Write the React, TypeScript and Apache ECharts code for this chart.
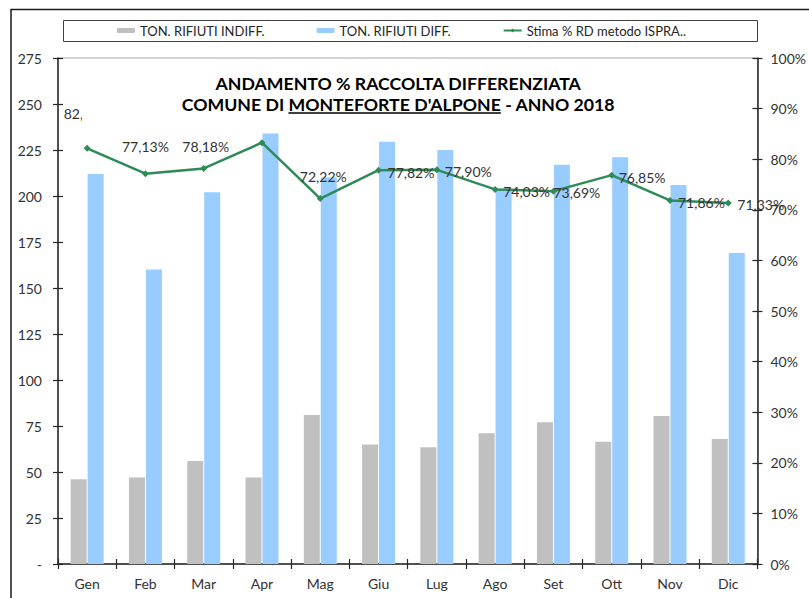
import React, { useEffect, useRef } from "react";
import * as echarts from "echarts";

// ---- data ----
const months = ["Gen", "Feb", "Mar", "Apr", "Mag", "Giu", "Lug", "Ago", "Set", "Ott", "Nov", "Dic"];
const tonIndiff = [46, 47, 56, 47, 81, 65, 63.5, 71, 77, 66.5, 80.5, 68];
const tonDiff = [212, 160, 202, 234, 210, 229.5, 225, 204, 217, 221, 206, 169];
const pctRD = [82.15, 77.13, 78.18, 83.26, 72.22, 77.82, 77.9, 74.03, 73.69, 76.85, 71.86, 71.33];

const seriesNames = ["TON. RIFIUTI INDIFF.", "TON. RIFIUTI DIFF.", "Stima % RD metodo ISPRA.."];
const titleLine1 = "ANDAMENTO % RACCOLTA DIFFERENZIATA";
const titleLine2 = ["COMUNE DI ", "MONTEFORTE D'ALPONE", " - ANNO 2018"];

// label placement for line points (relative to the marker); Apr label is hidden by the title box
const labelOffsets: [number, number][] = [
  [0, -35], [0, -27], [2, -22], [0, -34], [3, -22], [9, 2],
  [8, 2], [8, 2], [0, 1], [7, 2], [8, 2], [9, 1],
];
const labelAligns = ["center", "center", "center", "center", "center", "left",
  "left", "left", "left", "left", "left", "left"];
const labelVisible = [true, true, true, false, true, true, true, true, true, true, true, true];

const FONT = "Lato";
const fmtPct = (v: number) => v.toFixed(2).replace(".", ",") + "%";

function measure(text: string, font: string): number {
  const c = document.createElement("canvas");
  const ctx = c.getContext("2d");
  if (!ctx) return text.length * 9;
  ctx.font = font;
  return ctx.measureText(text).width;
}

export default function App() {
  const ref = useRef<HTMLDivElement>(null);
  useEffect(() => {
    if (!ref.current) return;
    const chart = echarts.init(ref.current, undefined, { renderer: "svg" });

    // title layout (measured)
    const baseFs = 16;
    const w1base = measure(titleLine1, `bold ${baseFs}px ${FONT}`);
    const fs = Math.round((baseFs * 367) / w1base * 10) / 10;
    const tFont = `bold ${fs}px ${FONT}`;
    const cx = 398.5;
    const w1 = measure(titleLine1, tFont);
    const wa = measure(titleLine2[0], tFont);
    const wb = measure(titleLine2[1], tFont);
    const wc = measure(titleLine2[2], tFont);
    const x2 = cx - (wa + wb + wc) / 2;

    const titleStyle = (text: string) => ({
      text,
      fill: "#000",
      fontFamily: FONT,
      fontWeight: "bold",
      fontSize: fs,
      align: "left",
      verticalAlign: "middle",
    });

    const option: any = {
      animation: false,
      textStyle: { fontFamily: FONT },
      grid: {
        left: 58, right: 46, top: 58, bottom: 34,
        show: true, borderColor: "#a6a6a6", borderWidth: 1, backgroundColor: "transparent",
      },
      legend: {
        left: 117, top: 24, padding: 0,
        itemWidth: 18, itemHeight: 5, itemGap: 52,
        data: seriesNames,
        textStyle: { fontFamily: FONT, fontSize: 13, color: "#262626" },
      },
      xAxis: [
        {
          type: "category", data: months,
          axisLine: { lineStyle: { color: "#262626", width: 1.5 } },
          axisTick: { show: true, length: 5, lineStyle: { color: "#262626", width: 1.2 } },
          axisLabel: { fontFamily: FONT, fontSize: 14, color: "#333", margin: 12 },
        },
        {
          type: "category", data: months, position: "bottom",
          axisLine: { show: false },
          axisTick: { show: true, inside: true, length: 5, lineStyle: { color: "#262626", width: 1.2 } },
          axisLabel: { show: false },
        },
      ],
      yAxis: [
        {
          type: "value", min: 0, max: 275, interval: 25, position: "left",
          axisLine: { show: true, lineStyle: { color: "#262626", width: 1.5 } },
          axisTick: { show: true, length: 5, lineStyle: { color: "#262626", width: 1.2 } },
          splitLine: { show: false },
          axisLabel: {
            fontFamily: FONT, fontSize: 14, color: "#333", margin: 16,
            formatter: (v: number) => (v === 0 ? "-" : String(v)),
          },
        },
        {
          type: "value", min: 0, max: 100, interval: 10, position: "right",
          axisLine: { show: true, lineStyle: { color: "#262626", width: 1.5 } },
          axisTick: { show: true, length: 5, lineStyle: { color: "#262626", width: 1.2 } },
          splitLine: { show: false },
          axisLabel: {
            fontFamily: FONT, fontSize: 14, color: "#333", margin: 13,
            formatter: (v: number) => v + "%",
          },
        },
        {
          type: "value", min: 0, max: 275, interval: 25, position: "left",
          axisLine: { show: false },
          axisTick: { show: true, inside: true, length: 5, lineStyle: { color: "#262626", width: 1.2 } },
          splitLine: { show: false }, axisLabel: { show: false },
        },
        {
          type: "value", min: 0, max: 100, interval: 10, position: "right",
          axisLine: { show: false },
          axisTick: { show: true, inside: true, length: 5, lineStyle: { color: "#262626", width: 1.2 } },
          splitLine: { show: false }, axisLabel: { show: false },
        },
      ],
      series: [
        {
          name: seriesNames[0], type: "bar", data: tonIndiff, yAxisIndex: 0,
          barWidth: 16, barGap: "6%",
          itemStyle: { color: "#C0C0C0" },
        },
        {
          name: seriesNames[1], type: "bar", data: tonDiff, yAxisIndex: 0,
          barWidth: 16, barGap: "6%",
          itemStyle: { color: "#99CCFF" },
        },
        {
          name: seriesNames[2], type: "line", yAxisIndex: 1,
          data: pctRD.map((v, i) => ({
            value: v,
            label: { show: labelVisible[i], offset: labelOffsets[i], align: labelAligns[i] },
          })),
          symbol: "diamond", symbolSize: 7,
          lineStyle: { color: "#2E8B57", width: 2.5 },
          itemStyle: { color: "#2E8B57" },
          label: {
            show: true, position: "inside", verticalAlign: "middle",
            fontFamily: FONT, fontSize: 14, color: "#333",
            formatter: (p: any) => fmtPct(p.value),
          },
          z: 5,
        },
      ],
      graphic: [
        {
          type: "polyline", z: 100, silent: true,
          shape: { points: [[11, 598], [11, 9.5], [809, 9.5]] },
          style: { stroke: "#1a1a1a", lineWidth: 1.5, fill: "none" },
        },
        {
          type: "rect", z: 100, silent: true,
          shape: { x: 63.5, y: 20.5, width: 694, height: 21 },
          style: { stroke: "#404040", lineWidth: 1, fill: "none" },
        },
        {
          type: "rect", z: 100, silent: true,
          shape: { x: 82, y: 60, width: 634, height: 61 },
          style: { fill: "#fff" },
        },
        { type: "text", z: 101, x: cx - w1 / 2, y: 83.5, style: titleStyle(titleLine1) },
        { type: "text", z: 101, x: x2, y: 104, style: titleStyle(titleLine2[0]) },
        { type: "text", z: 101, x: x2 + wa, y: 104, style: titleStyle(titleLine2[1]) },
        { type: "text", z: 101, x: x2 + wa + wb, y: 104, style: titleStyle(titleLine2[2]) },
        {
          type: "line", z: 101, silent: true,
          shape: { x1: x2 + wa, y1: 113, x2: x2 + wa + wb, y2: 113 },
          style: { stroke: "#000", lineWidth: 1.3 },
        },
      ],
    };
    chart.setOption(option);
    return () => chart.dispose();
  }, []);

  return (
    <div
      ref={ref}
      style={{ position: "fixed", left: 0, top: 0, width: 809, height: 598, background: "#fff" }}
    />
  );
}
